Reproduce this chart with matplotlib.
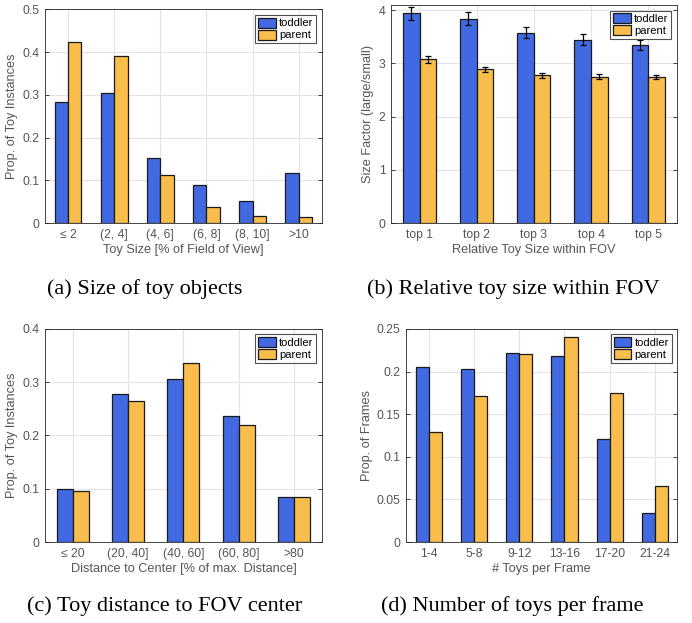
import numpy as np
import matplotlib.pyplot as plt

# (a) size of toy objects
size_cats = ['≤ 2', '(2, 4]', '(4, 6]', '(6, 8]', '(8, 10]', '>10']
size_toddler = [0.283, 0.304, 0.152, 0.090, 0.052, 0.118]
size_parent = [0.423, 0.391, 0.112, 0.038, 0.017, 0.014]

# (b) relative toy size within FOV
rel_cats = ['top 1', 'top 2', 'top 3', 'top 4', 'top 5']
rel_toddler = [3.94, 3.84, 3.58, 3.45, 3.35]
rel_toddler_err = [0.125, 0.125, 0.11, 0.10, 0.095]
rel_parent = [3.08, 2.89, 2.78, 2.75, 2.75]
rel_parent_err = [0.07, 0.045, 0.045, 0.045, 0.04]

# (c) distance to FOV center
dist_cats = ['≤ 20', '(20, 40]', '(40, 60]', '(60, 80]', '>80']
dist_toddler = [0.099, 0.277, 0.306, 0.237, 0.084]
dist_parent = [0.095, 0.265, 0.337, 0.220, 0.085]

# (d) number of toys per frame
num_cats = ['1-4', '5-8', '9-12', '13-16', '17-20', '21-24']
num_toddler = [0.205, 0.203, 0.222, 0.218, 0.121, 0.034]
num_parent = [0.129, 0.171, 0.221, 0.241, 0.175, 0.066]

blue = '#4169e1'
orange = '#f8bd4b'
txt = '#555555'

plt.rcParams['font.family'] = ['Liberation Sans', 'DejaVu Sans']
fig = plt.figure(figsize=(6.92, 6.23), dpi=100)


def panel(rect, cats, tod, par, ylim, yticks, ylabel, xlabel, caption, cap_xy,
          tod_err=None, par_err=None):
    ax = fig.add_axes(rect)
    x = np.arange(len(cats))
    w = 0.29
    ax.bar(x - w / 2, tod, w, color=blue, edgecolor='#1a1a1a', linewidth=0.9,
           label='toddler', zorder=3)
    ax.bar(x + w / 2, par, w, color=orange, edgecolor='#1a1a1a', linewidth=0.9,
           label='parent', zorder=3)
    if tod_err is not None:
        ax.errorbar(x - w / 2, tod, yerr=tod_err, fmt='none', ecolor='black',
                    elinewidth=0.9, capsize=2.5, capthick=0.9, zorder=4)
        ax.errorbar(x + w / 2, par, yerr=par_err, fmt='none', ecolor='black',
                    elinewidth=0.9, capsize=2.5, capthick=0.9, zorder=4)
    ax.set_xlim(-0.5, len(cats) - 0.5)
    ax.set_ylim(*ylim)
    ax.set_yticks(yticks)
    ax.set_yticklabels([('%g' % t) for t in yticks])
    ax.set_xticks(x)
    ax.set_xticklabels(cats)
    ax.grid(True, color='#e3e3e3', linewidth=0.8, zorder=0)
    ax.set_axisbelow(True)
    ax.tick_params(direction='in', length=3, colors='#262626', labelcolor=txt,
                   labelsize=8.7, right=True, top=False, width=0.6, pad=4)
    for s in ax.spines.values():
        s.set_color('#262626')
        s.set_linewidth(0.6)
    ax.set_ylabel(ylabel, color=txt, fontsize=9.2, labelpad=3)
    ax.set_xlabel(xlabel, color=txt, fontsize=9.2, labelpad=2.5)
    leg = ax.legend(loc='upper right', fontsize=8, frameon=True, fancybox=False,
                    handlelength=1.6, handleheight=1.0, handletextpad=0.3,
                    borderpad=0.25, labelspacing=0.1, borderaxespad=0.5)
    leg.get_frame().set_edgecolor('#262626')
    leg.get_frame().set_linewidth(0.8)
    fig.text(cap_xy[0], cap_xy[1], caption, ha='center', va='center',
             family='Liberation Serif', fontsize=16, color='black')
    return ax


panel([0.065, 0.642, 0.400, 0.343], size_cats, size_toddler, size_parent,
      (0, 0.5), [0, 0.1, 0.2, 0.3, 0.4, 0.5], 'Prop. of Toy Instances',
      'Toy Size [% of Field of View]', '(a) Size of toy objects',
      (145 / 692, 1 - 289 / 623))

panel([0.565, 0.642, 0.413, 0.350], rel_cats, rel_toddler, rel_parent,
      (0, 4.1), [0, 1, 2, 3, 4], 'Size Factor (large/small)',
      'Relative Toy Size within FOV', '(b) Relative toy size within FOV',
      (513 / 692, 1 - 289 / 623), rel_toddler_err, rel_parent_err)

panel([0.065, 0.130, 0.400, 0.342], dist_cats, dist_toddler, dist_parent,
      (0, 0.4), [0, 0.1, 0.2, 0.3, 0.4], 'Prop. of Toy Instances',
      'Distance to Center [% of max. Distance]', '(c) Toy distance to FOV center',
      (165 / 692, 1 - 606 / 623))

panel([0.587, 0.130, 0.392, 0.342], num_cats, num_toddler, num_parent,
      (0, 0.25), [0, 0.05, 0.1, 0.15, 0.2, 0.25], 'Prop. of Frames',
      '# Toys per Frame', '(d) Number of toys per frame',
      (512 / 692, 1 - 606 / 623))

fig.savefig('out.png', dpi=100)
